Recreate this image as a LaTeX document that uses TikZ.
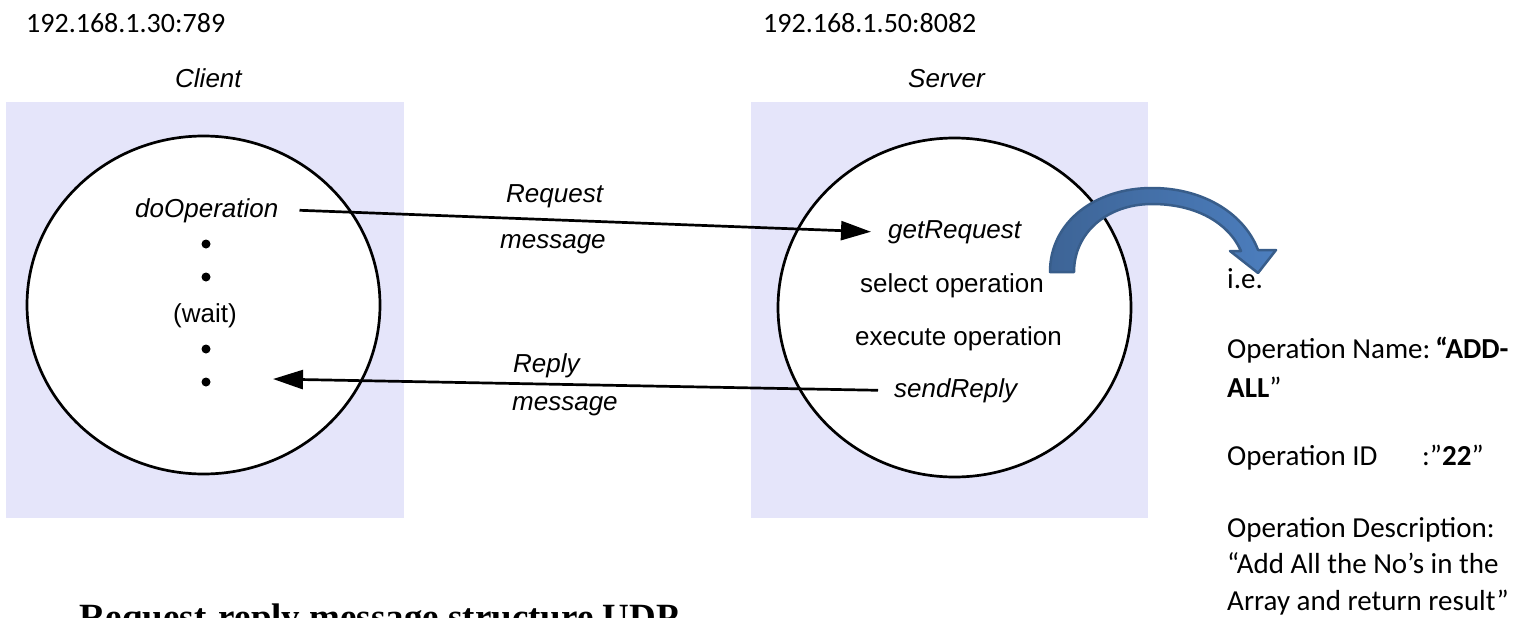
\documentclass[tikz,border=0pt]{standalone}
\usepackage{fontspec}
\setmainfont{Liberation Sans}
\newfontfamily\carl{Carlito}
\newfontfamily\tnr{Liberation Serif}
\usetikzlibrary{shapes.geometric,arrows.meta}
\definecolor{lav}{RGB}{229,229,250}
\definecolor{arrdark}{RGB}{56,93,138}
\definecolor{arrleft}{RGB}{61,100,150}
\definecolor{arrright}{RGB}{76,126,190}
\tikzset{
  txt/.style={font=\fontsize{26}{30}\selectfont, inner sep=0pt, anchor=base west},
  itxt/.style={font=\fontsize{26}{30}\selectfont\itshape, inner sep=0pt, anchor=base west},
  iptxt/.style={font=\carl\fontsize{28}{32}\selectfont, inner sep=0pt, anchor=base west},
  notetxt/.style={font=\carl\fontsize{29}{34}\selectfont, inner sep=0pt, anchor=base west},
  procbox/.style={rectangle, fill=lav, draw=none, inner sep=0pt},
  proc/.style={ellipse, draw=black, fill=white, line width=2.7pt, inner sep=0pt, minimum width=353pt, minimum height=338pt},
  dotn/.style={circle, fill=black, inner sep=0pt, minimum size=9pt},
  msg/.style={line width=2.7pt, -{Triangle[length=30pt,width=19pt]}},
  bigarrow/.style={draw=arrdark, line width=2.5pt, left color=arrleft, right color=arrright, line join=round}
}
\begin{document}
\begin{tikzpicture}[x=1pt,y=-1pt]
\useasboundingbox (0,0) rectangle (1533,618);
\clip (0,0) rectangle (1533,618);

% address labels
\node[iptxt] (cip) at (26,33) {192.168.1.30:789};
\node[iptxt] (sip) at (763,33) {192.168.1.50:8082};

% titles
\node[itxt] (ctitle) at (175,88) {Client};
\node[itxt] (stitle) at (908,88) {Server};

% boxes
\node[procbox, minimum width=398pt, minimum height=416pt] (cbox) at (205,310) {};
\node[procbox, minimum width=397pt, minimum height=416pt] (sbox) at (949.5,310) {};

% circles
\node[proc] (cc) at (203.5,305) {};
\node[proc, minimum height=339pt] (sc) at (954.5,307.5) {};

% client contents
\node[itxt] (doop) at (135,217) {doOperation};
\node[dotn] (d1) at (206,244) {};
\node[dotn] (d2) at (206,277) {};
\node[txt] (wait) at (173,322) {(wait)};
\node[dotn] (d3) at (206,349) {};
\node[dotn] (d4) at (206,382) {};

% server contents
\node[itxt] (getreq) at (888,238) {getRequest};
\node[txt] (selop) at (860,292) {select operation};
\node[txt] (exop) at (855,345) {execute operation};
\node[itxt] (sendrep) at (894,397) {sendReply};

% message labels
\node[itxt] (rq1) at (506,202) {Request};
\node[itxt] (rq2) at (500,248) {message};
\node[itxt] (rp1) at (513,372) {Reply};
\node[itxt] (rp2) at (512,410) {message};

% message arrows
\coordinate (rtip) at (273,379);
\draw[msg] ([xshift=21pt]doop.east) -- ([xshift=-17pt]getreq.west);
\draw[msg] ([xshift=-16pt]sendrep.west) -- (rtip);

% curved block arrow
\path[bigarrow]
  (1050,272) .. controls (1050,222) and (1095,188) .. (1152,188)
  .. controls (1205,188) and (1245,215) .. (1258,250)
  -- (1276,250) -- (1258,273) -- (1230,251) -- (1241,251)
  .. controls (1228,222) and (1195,204) .. (1152,204)
  .. controls (1108,204) and (1074,232) .. (1074,272) -- cycle;

% note text
\node[notetxt] (n1) at (1227,288) {i.e.};
\node[notetxt] (n2) at (1227,358) {Operation Name:\,\textbf{“ADD-}};
\node[notetxt] (n3) at (1227,397) {\textbf{ALL}”};
\node[notetxt] (n4) at (1227,465) {Operation ID};
\node[notetxt] (n4b) at (1422,465) {:”\textbf{22}”};
\node[notetxt] (n5) at (1227,537) {Operation Description:};
\node[notetxt] (n6) at (1227,573) {“Add All the No’s in the};
\node[notetxt] (n7) at (1227,610) {Array and return result”};

% caption (cut off at the bottom)
\node[font=\tnr\bfseries\fontsize{37}{40}\selectfont, inner sep=0pt, anchor=base west] (cap) at (79,629) {Request-reply message structure UDP};
\end{tikzpicture}
\end{document}
